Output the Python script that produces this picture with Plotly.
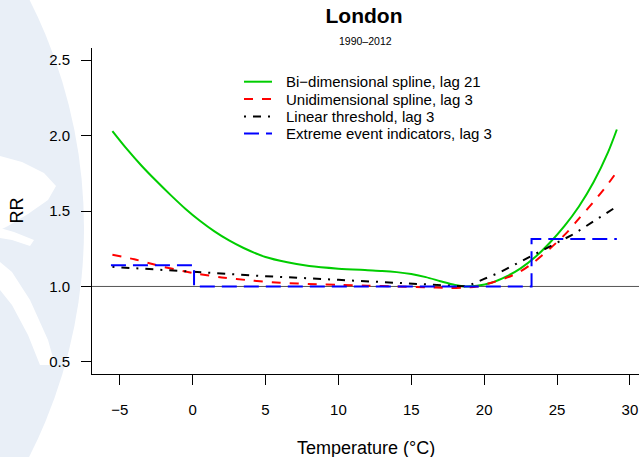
import plotly.graph_objects as go

# ---- relative risk curves, London 1990-2012 ----
temp_bidim = [-5.5, -4.5, -3.5, -2.5, -1.5, -0.5, 0.5, 1.5, 2.5, 3.5, 5, 6.5, 8, 10, 12,
              13, 14, 15, 16, 17, 18, 18.7, 19.5, 20.5, 21.5, 22.5, 23.5, 24.5, 25.5, 26.5,
              27.5, 28.5, 29.1]
rr_bidim = [2.03, 1.91, 1.80, 1.70, 1.605, 1.515, 1.435, 1.365, 1.305, 1.255, 1.195, 1.16,
            1.135, 1.118, 1.108, 1.103, 1.095, 1.082, 1.062, 1.035, 1.01, 1.0, 1.005,
            1.025, 1.065, 1.12, 1.195, 1.29, 1.40, 1.53, 1.69, 1.89, 2.04]

temp_unidim = [-5.5, -4, -2, 0, 2, 4, 6, 8.5, 10, 12, 14, 16, 17.5, 18.5, 19.5, 20.5,
               21.6, 22.5, 23.4, 24.5, 25.7, 26.5, 27.5, 28.5, 29.1]
rr_unidim = [1.21, 1.18, 1.13, 1.09, 1.06, 1.04, 1.025, 1.015, 1.01, 1.005, 1.0, 0.995,
             0.99, 0.992, 1.0, 1.025, 1.06, 1.10, 1.16, 1.25, 1.36, 1.45, 1.56, 1.68, 1.76]

temp_linear = [-5.5, 0, 5, 10, 15, 18.8, 20, 21, 22, 23, 24, 25, 26, 27, 28, 29.1]
rr_linear = [1.13, 1.095, 1.068, 1.044, 1.02, 1.0, 1.05, 1.09, 1.14, 1.19, 1.24, 1.29,
             1.34, 1.40, 1.46, 1.53]

temp_extreme = [-5.6, 0.1, 23.25, 29.1]
rr_extreme = [1.14, 1.0, 1.315, 1.315]

series_names = ["Bi−dimensional spline, lag 21", "Unidimensional spline, lag 3",
                "Linear threshold, lag 3", "Extreme event indicators, lag 3"]
series_colors = ["#00CD00", "#FF0000", "#000000", "#0000FF"]
series_dashes = ["solid", "9px,9px", "2px,7px,8px,7px", "15px,7px"]

x_ticks = [-5, 0, 5, 10, 15, 20, 25, 30]
y_ticks = [0.5, 1.0, 1.5, 2.0, 2.5]
y_ticktext = ["0.5", "1.0", "1.5", "2.0", "2.5"]

FONT = "Liberation Sans, Arial, Helvetica, sans-serif"
W, H = 639, 457
ML, MR, MT, MB = 92, 0, 48, 83
PW, PH = W - ML - MR, H - MT - MB


def px(x):
    return (x - ML) / PW


def py(y):
    return (H - MB - y) / PH


def path_px(points):
    pts = [f"{px(a):.4f},{py(b):.4f}" for a, b in points]
    return "M" + " L".join(pts) + " Z"


fig = go.Figure()

xs = [temp_bidim, temp_unidim, temp_linear, temp_extreme]
ys = [rr_bidim, rr_unidim, rr_linear, rr_extreme]
shapes_line = ["spline", "spline", "linear", "hv"]
for name, x, y, col, dash, shp in zip(series_names, xs, ys, series_colors,
                                      series_dashes, shapes_line):
    fig.add_trace(go.Scatter(x=x, y=y, mode="lines", name=name,
                             line=dict(color=col, width=2, dash=dash, shape=shp,
                                       smoothing=0.8 if shp == "spline" else None),
                             showlegend=False))

shapes = []
# faint seal in the background
seal = "#e9eff7"
shapes.append(dict(type="circle", xref="paper", yref="paper",
                   x0=px(-926), x1=px(84), y0=py(733), y1=py(-277),
                   fillcolor=seal, line=dict(width=0), layer="below"))
shapes.append(dict(type="path", xref="paper", yref="paper", layer="below",
                   path=path_px([(0, 156), (22, 162), (44, 173), (56, 186), (48, 200),
                                 (28, 214), (8, 226), (0, 230)]),
                   fillcolor="#ffffff", line=dict(width=0)))
shapes.append(dict(type="path", xref="paper", yref="paper", layer="below",
                   path=path_px([(0, 262), (12, 272), (30, 300), (48, 340), (55, 365),
                                 (40, 365), (28, 335), (12, 305), (0, 290)]),
                   fillcolor="#ffffff", line=dict(width=0)))
shapes.append(dict(type="path", xref="paper", yref="paper", layer="below",
                   path=path_px([(0, 228), (14, 232), (34, 240), (30, 246), (12, 240),
                                 (0, 238)]),
                   fillcolor="#ffffff", line=dict(width=0)))

# reference line at RR = 1
shapes.append(dict(type="line", xref="paper", yref="y", x0=0, x1=1, y0=1, y1=1,
                   line=dict(color="#555555", width=1), layer="below"))

# legend
row_y = [81.7, 99.0, 116.4, 133.4]
annotations = []
for name, col, dash, ry in zip(series_names, series_colors, series_dashes, row_y):
    shapes.append(dict(type="line", xref="paper", yref="paper",
                       x0=px(244), x1=px(272), y0=py(ry), y1=py(ry),
                       line=dict(color=col, width=2, dash=dash)))
    annotations.append(dict(text=name, xref="paper", yref="paper", x=px(284), y=py(ry),
                            xanchor="left", yanchor="middle", showarrow=False,
                            font=dict(family=FONT, size=15, color="black")))

annotations.append(dict(text="1990–2012", xref="paper", yref="paper", x=0.5, y=py(41),
                        xanchor="center", yanchor="middle", showarrow=False,
                        font=dict(family=FONT, size=10.5, color="black")))
annotations.append(dict(text="Temperature (°C)", xref="paper", yref="paper", x=0.5,
                        y=py(448), xanchor="center", yanchor="middle", showarrow=False,
                        font=dict(family=FONT, size=18, color="black")))
annotations.append(dict(text="RR", xref="paper", yref="paper", x=px(16.5), y=0.5,
                        xanchor="center", yanchor="middle", textangle=-90,
                        showarrow=False, font=dict(family=FONT, size=18, color="black")))

fig.update_layout(
    width=W, height=H,
    margin=dict(l=ML, r=MR, t=MT, b=MB, pad=0),
    paper_bgcolor="white", plot_bgcolor="rgba(0,0,0,0)",
    title=dict(text="<b>London</b>", x=px(364), xref="paper", y=1 - 15.5 / H,
               yanchor="middle", xanchor="center",
               font=dict(family=FONT, size=21, color="black")),
    shapes=shapes, annotations=annotations,
    font=dict(family=FONT, color="black"),
)
fig.update_xaxes(range=[-6.9, 30.62], tickvals=x_ticks, showgrid=False, zeroline=False,
                 showline=True, linecolor="black", linewidth=1, ticks="outside",
                 ticklen=10, tickcolor="black", tickwidth=1, ticklabelstandoff=12,
                 tickfont=dict(family=FONT, size=15, color="black"))
fig.update_yaxes(range=[0.42, 2.58], tickvals=y_ticks, ticktext=y_ticktext,
                 showgrid=False, zeroline=False, showline=True, linecolor="black",
                 linewidth=1, ticks="outside", ticklen=10, tickcolor="black",
                 tickwidth=1, ticklabelstandoff=8,
                 tickfont=dict(family=FONT, size=15, color="black"))

fig.write_html("out.html")
